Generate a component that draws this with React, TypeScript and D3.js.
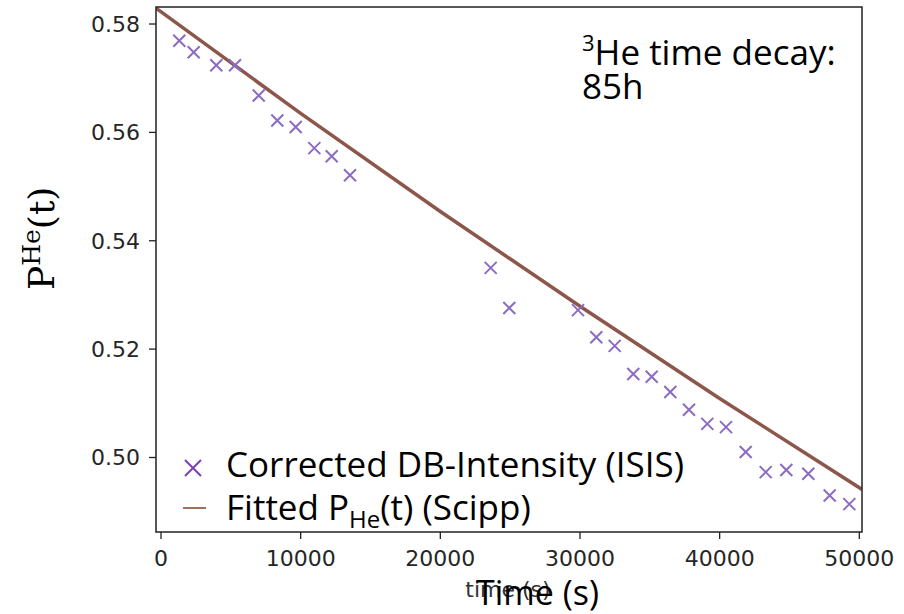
import React from "react";
import * as d3 from "d3";

const dataTime = [1310, 2341, 3960, 5299, 6996, 8327, 9645, 10977, 12223, 13533, 23607, 24939, 29858, 31168, 32486, 33818, 35135, 36467, 37806, 39116, 40455, 41866, 43298, 44773, 46348, 47880, 49284];
const dataValue = [0.5769, 0.5748, 0.5724, 0.5724, 0.5668, 0.5622, 0.561, 0.5571, 0.5556, 0.5521, 0.535, 0.5276, 0.5272, 0.5222, 0.5206, 0.5154, 0.5149, 0.5121, 0.5088, 0.5062, 0.5056, 0.501, 0.4973, 0.4977, 0.497, 0.493, 0.4914];
const fitTime = [-400, 10000, 20000, 30000, 40000, 50200];
const fitValue = [0.583, 0.5635, 0.5454, 0.5279, 0.5109, 0.4941];
const xTicks = [0, 10000, 20000, 30000, 40000, 50000];
const yTicks = [0.5, 0.52, 0.54, 0.56, 0.58];

const W = 904, H = 614;
const L = 156, T = 7, R = 862, B = 532;

export default function App() {
  const x = d3.scaleLinear().domain([-358, 50193]).range([L, R]);
  const y = d3.scaleLinear().domain([0.48625, 0.58314]).range([B, T]);
  const line = d3.line<number>().x((_, i) => x(fitTime[i])).y((d) => y(d));
  const tickFont = "DejaVu Sans";
  const uiFont = "Open Sans";
  const mk = 6;
  const markerColor = "#8b6cc2";
  return (
    <svg width={W} height={H} style={{ position: "absolute", left: 0, top: 0, background: "#fff" }}>
      <defs>
        <clipPath id="plot">
          <rect x={L} y={T} width={R - L} height={B - T} />
        </clipPath>
      </defs>
      <rect x={0} y={0} width={W} height={H} fill="#fff" />
      <g clipPath="url(#plot)">
        <path d={line(fitValue) || ""} fill="none" stroke="#8c564b" strokeWidth={3.5} />
        {dataTime.map((t, i) => {
          const cx = x(t), cy = y(dataValue[i]);
          return (
            <path key={i} d={`M${cx - mk},${cy - mk}L${cx + mk},${cy + mk}M${cx - mk},${cy + mk}L${cx + mk},${cy - mk}`} stroke={markerColor} strokeWidth={2} fill="none" />
          );
        })}
      </g>
      <rect x={L} y={T} width={R - L} height={B - T} fill="none" stroke="#222" strokeWidth={1.5} />
      {yTicks.map((v) => (
        <g key={v}>
          <line x1={L - 7} x2={L} y1={y(v)} y2={y(v)} stroke="#222" strokeWidth={1.3} />
          <text x={L - 16} y={y(v)} dy="0.36em" textAnchor="end" fontFamily={tickFont} fontSize={22} fill="#262626">{v.toFixed(2)}</text>
        </g>
      ))}
      {xTicks.map((v) => (
        <g key={v}>
          <line x1={x(v)} x2={x(v)} y1={B} y2={B + 7} stroke="#222" strokeWidth={1.3} />
          <text x={x(v)} y={566} textAnchor="middle" fontFamily={tickFont} fontSize={22} fill="#262626">{v}</text>
        </g>
      ))}
      <text x={508} y={597} textAnchor="middle" fontFamily={tickFont} fontSize={22} fill="#333">time (s)</text>
      <text x={476} y={605} fontFamily={uiFont} fontSize={34} fill="#000">Time (s)</text>
      <text transform="translate(54,290) rotate(-90)" fontFamily="DejaVu Serif" fontSize={36} fill="#000">
        P<tspan fontSize={25} dy={-14}>He</tspan><tspan dy={14}>(t)</tspan>
      </text>
      <text x={582} y={65} fontFamily={uiFont} fontSize={35} fill="#000">
        <tspan fontSize={22} dy={-14}>3</tspan><tspan dy={14}>He time decay:</tspan>
      </text>
      <text x={582} y={99} fontFamily={uiFont} fontSize={35} fill="#000">85h</text>
      <path d={`M${193 - 8},${468 - 8}L${193 + 8},${468 + 8}M${193 - 8},${468 + 8}L${193 + 8},${468 - 8}`} stroke="#7a3fb8" strokeWidth={2} />
      <line x1={183} x2={206} y1={508} y2={508} stroke="#a0705f" strokeWidth={2} />
      <text x={226} y={477} fontFamily={uiFont} fontSize={35} fill="#000">Corrected DB-Intensity (ISIS)</text>
      <text x={226} y={520} fontFamily={uiFont} fontSize={35} fill="#000">
        Fitted P<tspan fontSize={24} dy={8}>He</tspan><tspan dy={-8}>(t) (Scipp)</tspan>
      </text>
    </svg>
  );
}
